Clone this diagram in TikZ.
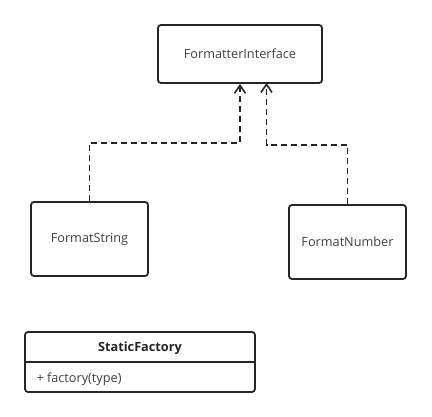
\documentclass[tikz,border=0pt]{standalone}
\usepackage{fontspec}
\setmainfont{Open Sans}
\usetikzlibrary{arrows.meta,positioning}

\begin{document}
\begin{tikzpicture}[x=1pt,y=-1pt,
  cls/.style={draw=black!85,line width=1.8pt,rounded corners=3pt,fill=white,
    text=black!75,font=\fontsize{12.7}{15}\selectfont,inner sep=0pt},
  impl/.style={draw=black!85,line width=1.8pt,dash pattern=on 6pt off 4pt,
    -{Straight Barb[length=8pt,width=11pt,line width=1.6pt]}}]
\useasboundingbox (0,0) rectangle (432,417);
\node[cls,minimum width=164pt,minimum height=58pt] (iface) at (240,54) {FormatterInterface};
\node[cls,minimum width=117pt,minimum height=74pt] (fstr) at (89.5,239) {FormatString};
\node[cls,minimum width=117pt,minimum height=74pt] (fnum) at (347.5,242) {FormatNumber};
\coordinate (tipR) at (266.5,83);
% static factory class with one method row
\node[cls,minimum width=230pt,minimum height=60pt] (sfac) at (140,362) {};
\draw[black!85,line width=1.8pt] (sfac.west |- 0,362) -- (sfac.east |- 0,362);
\node[text=black!85,font=\fontsize{12.7}{15}\selectfont\bfseries] (sfname) at (140,348) {StaticFactory};
\node[text=black!75,font=\fontsize{12.7}{15}\selectfont,anchor=west] (sfop) at (33,379) {+ factory(type)};
\draw[impl] (fstr.north) |- (240,143) -- (iface.south);
\draw[impl] (fnum.north) |- (266.5,145) -- (tipR);
\end{tikzpicture}
\end{document}
